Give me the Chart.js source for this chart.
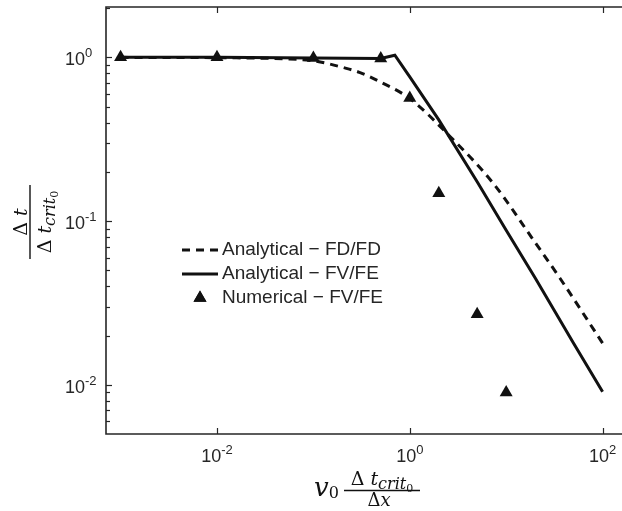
<!DOCTYPE html>
<html>
<head>
<meta charset="utf-8">
<script src="https://cdn.jsdelivr.net/npm/chart.js"></script>
<style>
    body { margin: 0; background: #fff; }
    canvas { display: block; }
</style>
</head>
<body>
<canvas id="grafico" width="622" height="511"></canvas>
<script>
// curva analitica FD/FD (tracejada)
const xFDFD = [0.001, 0.01, 0.05, 0.1, 0.22, 0.3, 0.49, 1, 2.6, 7.35, 20, 36, 100]
const yFDFD = [1.0, 0.995, 0.98, 0.953, 0.857, 0.81, 0.71, 0.56, 0.33, 0.17, 0.074, 0.045, 0.018]
// curva analitica FV/FE (continua)
const xFVFE = [0.001, 0.01, 0.1, 0.5, 0.7, 1, 2, 5, 10, 20, 50, 100]
const yFVFE = [1.0, 1.0, 0.99, 0.985, 1.03, 0.76, 0.415, 0.174, 0.088, 0.045, 0.018, 0.0091]
// pontos numericos FV/FE
const xNum = [0.001, 0.01, 0.1, 0.5, 1, 2, 5, 10]
const yNum = [1.0, 1.0, 0.99, 0.985, 0.565, 0.148, 0.027, 0.009]

const nomesSeries = ['Analytical − FD/FD', 'Analytical − FV/FE', 'Numerical − FV/FE']
const expoentesX = [-2, 0, 2]
const expoentesY = [-2, -1, 0]

const corTexto = '#262626'
const sans = '"Liberation Sans", Arial, sans-serif'
const serif = '"DejaVu Serif", "Liberation Serif", serif'

function pares(xs, ys) {
    return xs.map((x, i) => ({ x: x, y: ys[i] }))
}

function desenhaRuns(ctx, runs, x, y) {
    let cx = x
    runs.forEach(r => {
        ctx.font = r[1]
        ctx.fillText(r[0], cx, y + (r[2] || 0))
        cx += ctx.measureText(r[0]).width
    })
    return cx - x
}

function larguraRuns(ctx, runs) {
    let w = 0
    runs.forEach(r => {
        ctx.font = r[1]
        w += ctx.measureText(r[0]).width
    })
    return w
}

function dez(ctx, exp, x, y, alinhamento) {
    const base = [['10', `18px ${sans}`, 0], [String(exp), `13px ${sans}`, -8]]
    let x0 = x
    if (alinhamento === 'center') x0 = x - larguraRuns(ctx, base) / 2
    desenhaRuns(ctx, base, x0, y)
}

const moldura = {
    id: 'moldura',
    afterDraw(chart) {
        const ctx = chart.ctx
        const a = chart.chartArea
        const sx = chart.scales.x
        const sy = chart.scales.y
        ctx.save()
        ctx.strokeStyle = corTexto
        ctx.fillStyle = corTexto
        ctx.lineWidth = 1.6
        ctx.beginPath()
        ctx.moveTo(a.right + 2, a.top)
        ctx.lineTo(a.left, a.top)
        ctx.lineTo(a.left, a.bottom)
        ctx.lineTo(a.right + 2, a.bottom)
        ctx.stroke()

        // ticks do eixo y (para dentro)
        ctx.lineWidth = 1.2
        for (let e = -3; e <= 0; e++) {
            for (let m = 1; m <= 9; m++) {
                const v = m * Math.pow(10, e)
                if (v < sy.min || v > sy.max) continue
                const py = Math.round(sy.getPixelForValue(v)) + 0.5
                const len = m === 1 ? 6 : 4
                ctx.beginPath()
                ctx.moveTo(a.left, py)
                ctx.lineTo(a.left + len, py)
                ctx.stroke()
            }
        }
        // ticks do eixo x (embaixo e em cima)
        expoentesX.forEach(e => {
            const px = Math.round(sx.getPixelForValue(Math.pow(10, e))) + 0.5
            ctx.beginPath()
            ctx.moveTo(px, a.bottom)
            ctx.lineTo(px, a.bottom - 6)
            ctx.moveTo(px, a.top)
            ctx.lineTo(px, a.top + 6)
            ctx.stroke()
        })

        ctx.textBaseline = 'alphabetic'
        ctx.textAlign = 'left'
        expoentesX.forEach(e => {
            const px = sx.getPixelForValue(Math.pow(10, e))
            dez(ctx, e, px, a.bottom + 28, 'center')
        })
        expoentesY.forEach(e => {
            const py = sy.getPixelForValue(Math.pow(10, e))
            dez(ctx, e, 65, py + 8, 'left')
        })

        // legenda
        const linhas = [250, 274, 298]
        chart.data.datasets.forEach((ds, i) => {
            const ly = linhas[i]
            ctx.strokeStyle = '#111'
            ctx.fillStyle = '#111'
            if (ds.showLine) {
                ctx.lineWidth = ds.borderWidth
                ctx.setLineDash(ds.borderDash || [])
                ctx.beginPath()
                ctx.moveTo(182, ly)
                ctx.lineTo(218, ly)
                ctx.stroke()
                ctx.setLineDash([])
            } else {
                Chart.helpers.drawPoint(ctx, { pointStyle: 'triangle', radius: ds.pointRadius, borderWidth: 0 }, 200, ly)
                ctx.fill()
            }
            ctx.fillStyle = corTexto
            ctx.font = `19px ${sans}`
            ctx.textBaseline = 'middle'
            ctx.fillText(ds.label, 222, ly)
        })
        ctx.textBaseline = 'alphabetic'

        // titulo do eixo x
        ctx.fillStyle = '#111'
        ctx.strokeStyle = '#111'
        desenhaRuns(ctx, [['v', `italic 26px ${serif}`, 0], ['0', `16px ${serif}`, 2]], 314, 496)
        const numX = [['Δ', `19px ${serif}`, 0], [' ', `19px ${serif}`, 0], ['t', `italic 19px ${serif}`, 0], ['crit', `italic 16px ${serif}`, 4], ['0', `11px ${serif}`, 7]]
        const wn = larguraRuns(ctx, numX)
        desenhaRuns(ctx, numX, 382 - wn / 2, 485)
        const denX = [['Δ', `18px ${serif}`, 0], ['x', `italic 18px ${serif}`, 0]]
        desenhaRuns(ctx, denX, 379 - larguraRuns(ctx, denX) / 2, 506)
        ctx.lineWidth = 1.4
        ctx.beginPath()
        ctx.moveTo(344, 490.5)
        ctx.lineTo(420, 490.5)
        ctx.stroke()

        // titulo do eixo y (girado)
        ctx.translate(30, 222)
        ctx.rotate(-Math.PI / 2)
        ctx.beginPath()
        ctx.moveTo(-37, 0)
        ctx.lineTo(37, 0)
        ctx.stroke()
        const numY = [['Δ', `19px ${serif}`, 0], [' ', `19px ${serif}`, 0], ['t', `italic 19px ${serif}`, 0]]
        desenhaRuns(ctx, numY, -larguraRuns(ctx, numY) / 2, -3)
        desenhaRuns(ctx, numX, -wn / 2, 21)
        ctx.restore()
    }
}

const ctx = document.getElementById('grafico')

new Chart(ctx, {
    type: 'scatter',
    data: {
        datasets: [{
            label: nomesSeries[0],
            data: pares(xFDFD, yFDFD),
            showLine: true,
            borderColor: '#111',
            borderWidth: 3,
            borderDash: [8, 6],
            pointRadius: 0,
            cubicInterpolationMode: 'monotone'
        }, {
            label: nomesSeries[1],
            data: pares(xFVFE, yFVFE),
            showLine: true,
            borderColor: '#111',
            borderWidth: 3,
            pointRadius: 0,
            tension: 0
        }, {
            label: nomesSeries[2],
            data: pares(xNum, yNum),
            showLine: false,
            pointStyle: 'triangle',
            pointRadius: 7.5,
            backgroundColor: '#111',
            borderColor: '#111',
            borderWidth: 0
        }]
    },
    options: {
        responsive: false,
        devicePixelRatio: 1,
        animation: false,
        layout: { autoPadding: false, padding: { top: 7, left: 0, right: 0, bottom: 0 } },
        plugins: {
            legend: { display: false },
            tooltip: { enabled: false }
        },
        scales: {
            x: {
                type: 'logarithmic',
                min: 7.06e-4,
                max: 159,
                grid: { display: false },
                border: { display: false },
                ticks: { display: false },
                afterFit: (s) => { s.height = 77 }
            },
            y: {
                type: 'logarithmic',
                min: 0.00502,
                max: 2.03,
                grid: { display: false },
                border: { display: false },
                ticks: { display: false },
                afterFit: (s) => { s.width = 106 }
            }
        }
    },
    plugins: [moldura]
});
</script>
</body>
</html>
